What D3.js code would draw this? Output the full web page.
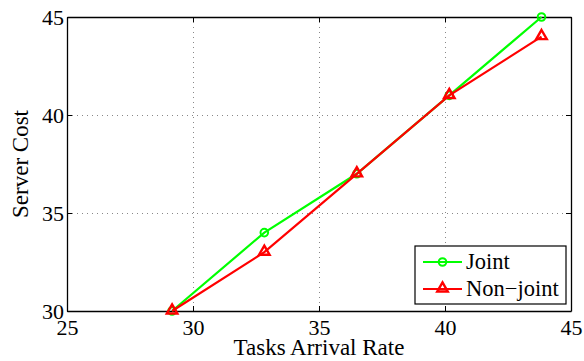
<!DOCTYPE html>
<html>
<head>
<meta charset="utf-8">
<script src="https://cdn.jsdelivr.net/npm/d3@7"></script>
<style>
  body { margin: 0; background: #fff; }
  text { font-family: "Liberation Serif", "Times New Roman", serif; fill: #000; }
</style>
</head>
<body>
<svg id="chart" width="584" height="361"></svg>
<script>
// arrival rates on the x axis
var arrivalRates = [29.17, 32.83, 36.5, 40.17, 43.83];
// server cost per scheme
var jointCost = [30, 34, 37, 41, 45];
var nonJointCost = [30, 33, 37, 41, 44];
var xTicks = [25, 30, 35, 40, 45];
var yTicks = [30, 35, 40, 45];

var svg = d3.select("#chart");
var pLeft = 67, pRight = 571, pTop = 17, pBottom = 311;

var x = d3.scaleLinear().domain([25, 45]).range([pLeft, pRight]);
var y = d3.scaleLinear().domain([30, 45]).range([pBottom, pTop]);

// dotted grid
var grid = svg.append("g").attr("class", "grid")
  .attr("stroke", "#888").attr("stroke-width", 1).attr("stroke-dasharray", "1,4");
grid.selectAll("line.gx").data(xTicks.slice(1, -1)).enter().append("line")
  .attr("x1", function(d) { return Math.round(x(d)) + 0.5; })
  .attr("x2", function(d) { return Math.round(x(d)) + 0.5; })
  .attr("y1", pTop).attr("y2", pBottom);
grid.selectAll("line.gy").data(yTicks.slice(1, -1)).enter().append("line")
  .attr("y1", function(d) { return Math.round(y(d)) + 0.5; })
  .attr("y2", function(d) { return Math.round(y(d)) + 0.5; })
  .attr("x1", pLeft).attr("x2", pRight);

// axes, ticks pointing inwards like matlab
var xAxis = d3.axisBottom(x).tickValues(xTicks).tickSizeInner(-5).tickSizeOuter(0).tickPadding(8);
var yAxis = d3.axisLeft(y).tickValues(yTicks).tickSizeInner(-5).tickSizeOuter(0).tickPadding(3);

svg.append("g").attr("transform", "translate(0," + pBottom + ")").call(xAxis);
svg.append("g").attr("transform", "translate(" + pLeft + ",0)").call(yAxis);
svg.append("g").attr("transform", "translate(0," + pTop + ")")
  .call(d3.axisTop(x).tickValues(xTicks).tickSizeInner(-5).tickSizeOuter(0).tickFormat(""));
svg.append("g").attr("transform", "translate(" + pRight + ",0)")
  .call(d3.axisRight(y).tickValues(yTicks).tickSizeInner(-5).tickSizeOuter(0).tickFormat(""));

svg.selectAll("g").attr("font-family", null).attr("font-size", null);
svg.selectAll(".domain").attr("stroke", "#000").attr("stroke-width", 1.3);
svg.selectAll(".tick line").attr("stroke", "#000");
svg.selectAll(".tick text")
  .style("font-family", "'Liberation Serif', serif")
  .style("font-size", "22px").attr("fill", "#000");

// axis labels
svg.append("text").attr("x", (pLeft + pRight) / 2).attr("y", 355)
  .attr("text-anchor", "middle").style("font-size", "23px").text("Tasks Arrival Rate");
svg.append("text").attr("transform", "translate(28," + ((pTop + pBottom) / 2) + ") rotate(-90)")
  .attr("text-anchor", "middle").style("font-size", "23px").text("Server Cost");

var series = [
  { name: "Joint", color: "#00ff00", values: jointCost, marker: "circle" },
  { name: "Non\u2212joint", color: "#ff0000", values: nonJointCost, marker: "triangle" }
];

var line = d3.line()
  .x(function(d) { return x(d[0]); })
  .y(function(d) { return y(d[1]); });

var triangle = d3.symbol().type(d3.symbolTriangle).size(48);

function drawMarker(g, s, px, py) {
  if (s.marker == "circle") {
    g.append("circle").attr("cx", px).attr("cy", py).attr("r", 3.8)
      .attr("fill", "none").attr("stroke", s.color).attr("stroke-width", 2);
  } else {
    g.append("path").attr("d", triangle).attr("transform", "translate(" + px + "," + (py - 0.5) + ")")
      .attr("fill", "none").attr("stroke", s.color).attr("stroke-width", 2.4);
  }
}

series.forEach(function(s) {
  var pts = arrivalRates.map(function(r, i) { return [r, s.values[i]]; });
  var g = svg.append("g");
  g.append("path").datum(pts).attr("d", line)
    .attr("fill", "none").attr("stroke", s.color).attr("stroke-width", 2.2);
  pts.forEach(function(p) { drawMarker(g, s, x(p[0]), y(p[1])); });
});

// legend
var legend = svg.append("g").attr("transform", "translate(415,246)");
legend.append("rect").attr("width", 151).attr("height", 58)
  .attr("fill", "#fff").attr("stroke", "#000").attr("stroke-width", 1.2);
series.forEach(function(s, i) {
  var ly = 16 + i * 27;
  legend.append("line").attr("x1", 8).attr("x2", 47).attr("y1", ly).attr("y2", ly)
    .attr("stroke", s.color).attr("stroke-width", 2.2);
  drawMarker(legend, s, 27.5, ly);
  legend.append("text").attr("x", 51).attr("y", ly + 7).style("font-size", "22.5px").text(s.name);
});
</script>
</body>
</html>
